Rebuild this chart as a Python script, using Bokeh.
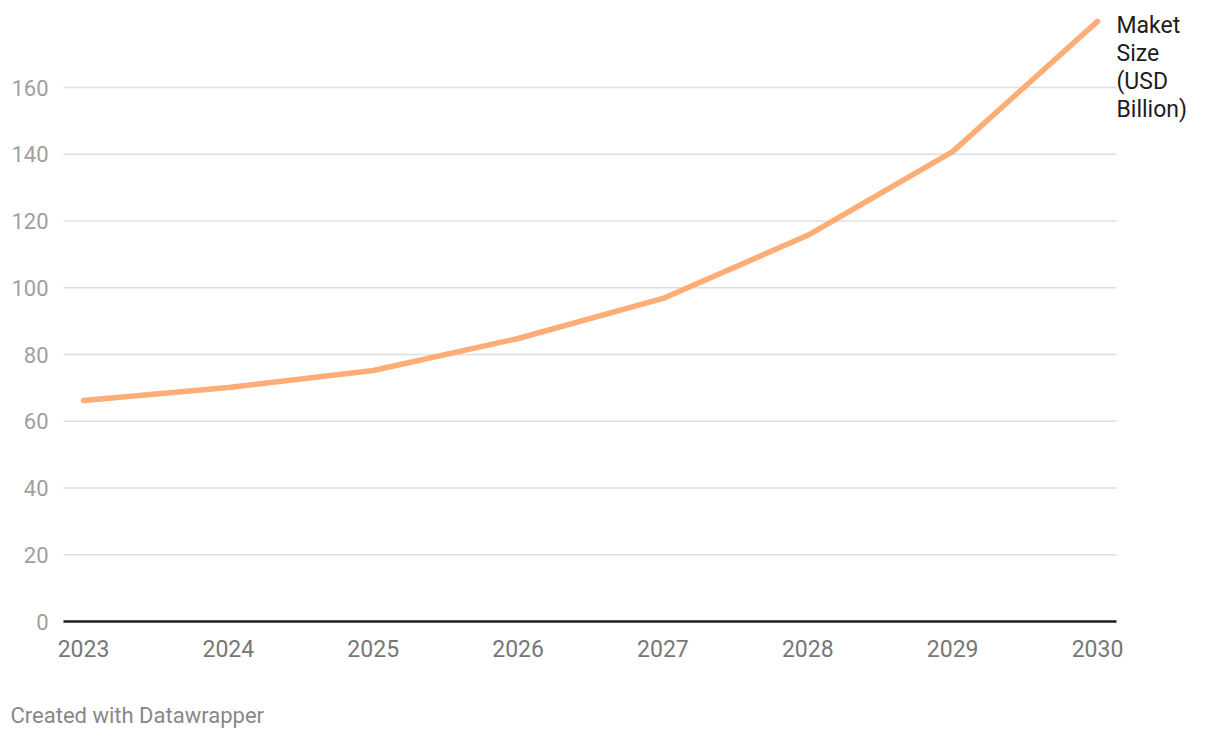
from bokeh.plotting import figure
from bokeh.models import Range1d, FixedTicker, Label
from bokeh.embed import file_html
from bokeh.resources import INLINE

years = [2023, 2024, 2025, 2026, 2027, 2028, 2029, 2030]
market_size = [66.2, 70.1, 75.2, 84.8, 96.8, 115.7, 140.8, 179.8]
series_name_lines = ["Maket", "Size", "(USD", "Billion)"]
y_ticks = [0, 20, 40, 60, 80, 100, 120, 140, 160]
footer = "Created with Datawrapper"

W, H = 1210, 730
px_per_year = 1014 / 7
px_per_unit = 534 / 160
plot_left = years[0] - 20 / px_per_year        # left edge of the plotted area
plot_right = years[-1] + 19 / px_per_year      # right edge of the plotted area
x_min = years[0] - 83 / px_per_year
x_max = x_min + W / px_per_year
y_max = 621 / px_per_unit
y_min = y_max - H / px_per_unit

p = figure(width=W, height=H, output_backend="svg", toolbar_location=None,
           x_range=Range1d(x_min, x_max), y_range=Range1d(y_min, y_max),
           min_border=0)
p.outline_line_color = None
p.background_fill_color = "white"
p.border_fill_color = "white"

p.xgrid.grid_line_color = None
p.ygrid.grid_line_color = None

grid_vals = [v for v in y_ticks if v > 0]
p.segment(x0=[plot_left] * len(grid_vals), y0=grid_vals,
          x1=[plot_right] * len(grid_vals), y1=grid_vals,
          line_color="#e0e0e0", line_width=1.5, level="underlay")

p.yaxis.fixed_location = plot_left
p.yaxis.ticker = FixedTicker(ticks=y_ticks)
p.yaxis.axis_line_color = None
p.yaxis.major_tick_line_color = None
p.yaxis.minor_tick_line_color = None
p.yaxis.major_label_text_font = "Roboto"
p.yaxis.major_label_text_font_size = "22px"
p.yaxis.major_label_text_color = "#a0a0a0"
p.yaxis.major_label_standoff = 9

p.xaxis.fixed_location = 0
p.xaxis.ticker = FixedTicker(ticks=years)
p.xaxis.bounds = (plot_left, plot_right)
p.xaxis.axis_line_color = "#1d1d1d"
p.xaxis.axis_line_width = 2.5
p.xaxis.major_tick_line_color = None
p.xaxis.minor_tick_line_color = None
p.xaxis.major_label_text_font = "Roboto"
p.xaxis.major_label_text_font_size = "23px"
p.xaxis.major_label_text_color = "#777777"
p.xaxis.major_label_standoff = 12

p.line(years, market_size, line_color="#ffad77", line_width=5.5, line_cap="round", line_join="round")

for i, line_text in enumerate(series_name_lines):
    p.add_layout(Label(x=years[-1], y=market_size[-1], text=line_text, x_offset=19, y_offset=-4 - 28 * i,
                       text_font="Roboto", text_font_size="23px", text_color="#1d1d1d",
                       text_baseline="middle", text_align="left"))

p.add_layout(Label(x=x_min, y=y_min, text=footer, x_offset=10, y_offset=15,
                   text_font="Roboto", text_font_size="22px", text_color="#888888",
                   text_baseline="middle", text_align="left"))

open("out.html", "w").write(file_html(p, INLINE))
